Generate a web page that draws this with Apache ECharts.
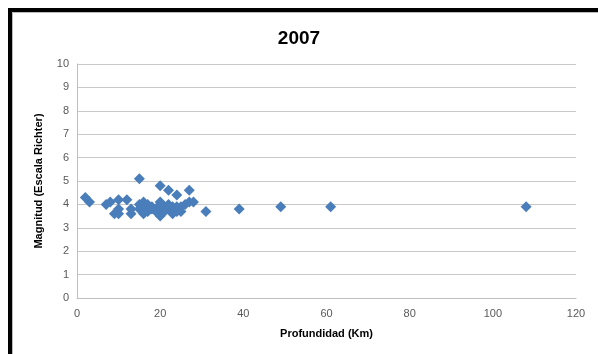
<!DOCTYPE html>
<html>
<head>
<meta charset="utf-8">
<script src="https://cdn.jsdelivr.net/npm/echarts@6/dist/echarts.min.js"></script>
<style>
  html, body { margin: 0; padding: 0; background: #fff; }
  #wrap { position: relative; width: 598px; height: 354px; overflow: hidden; }
  #frame {
    position: absolute; left: 8px; top: 8px; width: 700px; height: 400px;
    border-left: 4px solid #000; border-top: 4px solid #000;
    box-shadow: inset 1px 1px 0 #bbb;
  }
  #chart { position: absolute; left: 0; top: 0; width: 598px; height: 354px; }
</style>
</head>
<body>
<div id="wrap">
  <div id="frame"></div>
  <div id="chart"></div>
</div>
<script>
// profundidad (km) / magnitud pairs
const depth = [2, 3, 7, 8, 9, 10, 10, 10, 12, 13, 13, 15, 15, 15, 16, 16, 16, 17, 17, 17,
  18, 18, 19, 19, 20, 20, 20, 20, 20, 21, 21, 22, 22, 22, 23, 23, 24, 24, 24, 25,
  25, 26, 27, 27, 28, 31, 39, 49, 61, 108]
const magnitude = [4.3, 4.1, 4.0, 4.1, 3.6, 4.2, 3.8, 3.6, 4.2, 3.8, 3.6, 5.1, 3.8, 4.0, 4.1, 3.7, 3.6, 3.9, 4.0, 3.7,
  3.8, 3.9, 3.7, 3.8, 4.8, 4.1, 4.0, 3.8, 3.5, 3.9, 3.7, 4.6, 3.8, 4.0, 3.6, 3.9, 4.4, 3.7, 3.9, 3.7,
  3.9, 4.0, 4.6, 4.1, 4.1, 3.7, 3.8, 3.9, 3.9, 3.9]
const xTicks = [0, 20, 40, 60, 80, 100, 120]
const yTicks = [0, 1, 2, 3, 4, 5, 6, 7, 8, 9, 10]

const points = depth.map((d, i) => [d, magnitude[i]])
const font = 'Liberation Sans'

const chart = echarts.init(document.getElementById('chart'))
chart.setOption({
  animation: false,
  title: {
    text: '2007',
    left: 'center',
    top: 24,
    textStyle: { fontFamily: font, fontSize: 19, fontWeight: 'bold', color: '#000' }
  },
  grid: { left: 77, right: 22, top: 64, bottom: 56 },
  xAxis: {
    type: 'value',
    min: xTicks[0],
    max: xTicks[xTicks.length - 1],
    interval: 20,
    name: 'Profundidad (Km)',
    nameLocation: 'middle',
    nameGap: 30,
    nameTextStyle: { fontFamily: font, fontSize: 11, fontWeight: 'bold', color: '#000' },
    axisLine: { lineStyle: { color: '#bfbfbf' } },
    axisTick: { show: false },
    splitLine: { show: false },
    axisLabel: { fontFamily: font, fontSize: 11, color: '#595959', margin: 10 }
  },
  yAxis: {
    type: 'value',
    min: yTicks[0],
    max: yTicks[yTicks.length - 1],
    interval: 1,
    name: 'Magnitud (Escala Richter)',
    nameLocation: 'middle',
    nameGap: 33,
    nameTextStyle: { fontFamily: font, fontSize: 11, fontWeight: 'bold', color: '#000' },
    axisLine: { show: true, lineStyle: { color: '#bfbfbf' } },
    axisTick: { show: false },
    splitLine: { lineStyle: { color: '#c8c8c8' } },
    axisLabel: { fontFamily: font, fontSize: 11, color: '#595959', margin: 8 }
  },
  series: [{
    type: 'scatter',
    data: points,
    symbol: 'diamond',
    symbolSize: 11,
    itemStyle: { color: '#4a7ebb', opacity: 1 }
  }]
})
</script>
</body>
</html>
